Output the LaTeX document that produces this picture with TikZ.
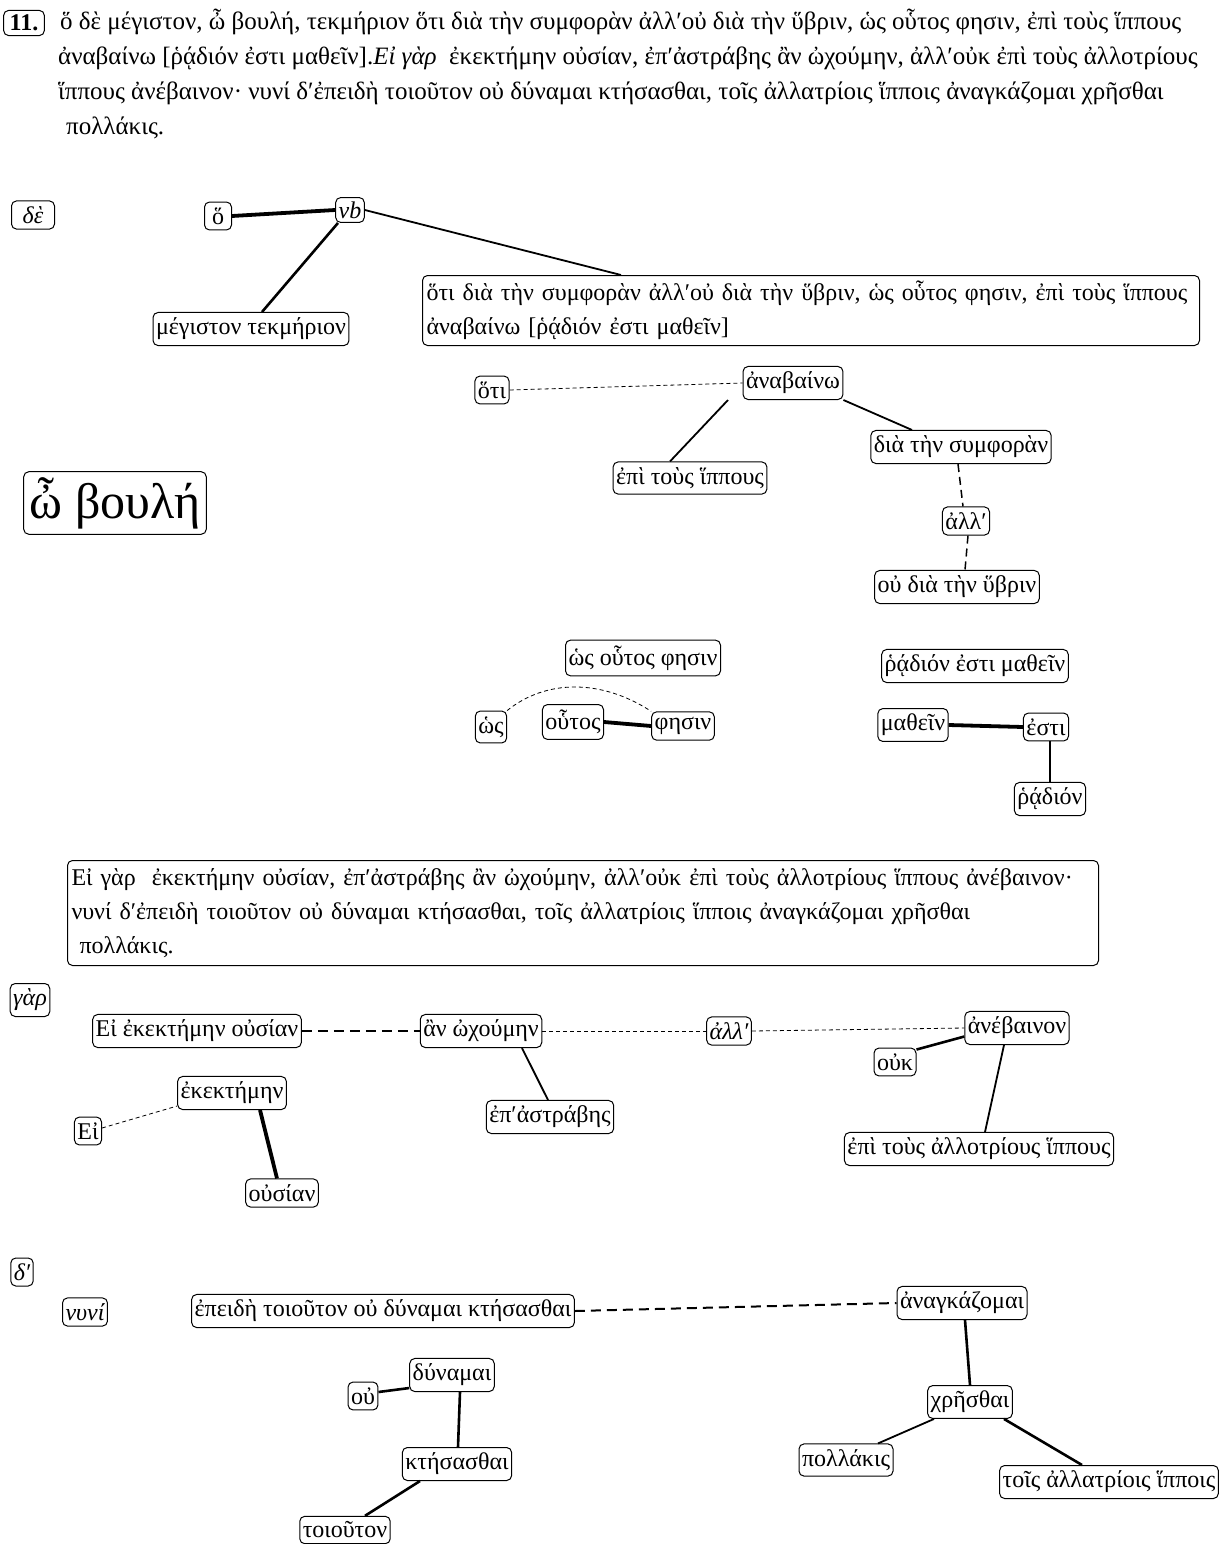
\documentclass[tikz,border=0pt]{standalone}
\usepackage{fontspec}
\setmainfont{Liberation Serif}
\usetikzlibrary{calc}
\begin{document}
\begin{tikzpicture}[x=1pt,y=-1pt,
  every node/.style={font=\fontsize{24}{34}\selectfont},
  box/.style={draw, rounded corners=5pt, line width=1pt, inner xsep=3pt, inner ysep=5.5pt},
  txt/.style={inner sep=0pt, anchor=base west, font=\fontsize{25}{34}\selectfont},
  nrm/.style={line width=1.8pt},
  mid/.style={line width=2.6pt},
  thk/.style={line width=3.8pt},
  thn/.style={line width=0.8pt, dash pattern=on 4pt off 3pt},
  mdash/.style={line width=1.5pt, dash pattern=on 8pt off 5pt},
  ldash/.style={line width=2pt, dash pattern=on 10pt off 6pt}]
\useasboundingbox (0,0) rectangle (1225,1544);
% header
\node[box, font=\fontsize{24}{26}\bfseries\selectfont, inner xsep=6pt, inner ysep=4.5pt] (num) at (24,23) {11.};
\node[txt] (h1) at (60,30) {ὅ δὲ μέγιστον, ὦ βουλή, τεκμήριον ὅτι διὰ τὴν συμφορὰν ἀλλ′οὐ διὰ τὴν ὕβριν, ὡς οὗτος φησιν, ἐπὶ τοὺς ἵππους};
\node[txt] (h2) at (58,65) {ἀναβαίνω [ῥᾴδιόν ἐστι μαθεῖν].\textit{Εἰ γὰρ} \ ἐκεκτήμην οὐσίαν, ἐπ′ἀστράβης ἂν ὠχούμην, ἀλλ′οὐκ ἐπὶ τοὺς ἀλλοτρίους};
\node[txt] (h3) at (58,100) {ἵππους ἀνέβαινον· νυνί δ′ἐπειδὴ τοιοῦτον οὐ δύναμαι κτήσασθαι, τοῖς ἀλλατρίοις ἵπποις ἀναγκάζομαι χρῆσθαι};
\node[txt] (h4) at (66,135) {πολλάκις.};
% first sentence
\node[box, minimum width=43pt] (de) at (33,215) {\itshape δὲ};
\node[box, minimum width=27pt] (o) at (218,216) {ὅ};
\node[box, inner ysep=4pt] (vb) at (350,210) {\itshape vb};
\node[box] (meg) at (251,329) {μέγιστον τεκμήριον};
\node[box, anchor=north west, align=left, text width=769pt, inner xsep=4pt, minimum height=70pt] (big1) at (422,275) {\mbox{ὅτι διὰ τὴν συμφορὰν ἀλλ′οὐ διὰ τὴν ὕβριν, ὡς οὗτος φησιν, ἐπὶ τοὺς ἵππους}\\ ἀναβαίνω [ῥᾴδιόν ἐστι μαθεῖν]};
\node[box, font=\fontsize{50}{56}\selectfont, inner xsep=6pt] (boule) at (115,503) {ὦ βουλή};
\node[box] (hoti) at (492,390) {ὅτι};
\node[box] (anab) at (793,383) {ἀναβαίνω};
\node[box] (epi) at (690,478) {ἐπὶ τοὺς ἵππους};
\node[box] (dia) at (961,447) {διὰ τὴν συμφορὰν};
\node[box] (all1) at (966,521) {ἀλλ′};
\node[box] (oudia) at (957,587) {οὐ διὰ τὴν ὕβριν};
\node[box] (hosph) at (643,658) {ὡς οὗτος φησιν};
\node[box] (hos) at (491,727) {ὡς};
\node[box] (houtos) at (573,722) {οὗτος};
\node[box] (phesin) at (683,726) {φησιν};
\node[box] (rhem) at (975,666) {ῥᾴδιόν ἐστι μαθεῖν};
\node[box] (mathein) at (913,725) {μαθεῖν};
\node[box] (esti) at (1046,727) {ἐστι};
\node[box] (rhadion) at (1050,799) {ῥᾴδιόν};
% second sentence
\node[box, anchor=north west, align=left, text width=1023pt, inner xsep=4pt, minimum height=105pt] (big2) at (67,860) {\mbox{Εἰ γὰρ \ ἐκεκτήμην οὐσίαν, ἐπ′ἀστράβης ἂν ὠχούμην, ἀλλ′οὐκ ἐπὶ τοὺς ἀλλοτρίους ἵππους ἀνέβαινον·}\\ νυνί δ′ἐπειδὴ τοιοῦτον οὐ δύναμαι κτήσασθαι, τοῖς ἀλλατρίοις ἵπποις ἀναγκάζομαι χρῆσθαι\\ \ πολλάκις.};
\node[box] (gar) at (30,1000) {\itshape γὰρ};
\node[box] (eiek) at (197,1031) {Εἰ ἐκεκτήμην οὐσίαν};
\node[box] (anox) at (481,1031) {ἂν ὠχούμην};
\node[box] (all2) at (729,1031) {\itshape ἀλλ′};
\node[box] (aneb) at (1017,1028) {ἀνέβαινον};
\node[box] (ouk) at (895,1062) {οὐκ};
\node[box] (epall) at (979,1149) {ἐπὶ τοὺς ἀλλοτρίους ἵππους};
\node[box] (epastr) at (550,1117) {ἐπ′ἀστράβης};
\node[box] (ekekt) at (232,1093) {ἐκεκτήμην};
\node[box] (ei) at (88,1131) {Εἰ};
\node[box] (ousian) at (282,1193) {οὐσίαν};
% third part
\node[box] (dp) at (22,1272) {\itshape δ′};
\node[box] (nyni) at (85,1312) {\itshape νυνί};
\node[box] (epeide) at (383,1311) {ἐπειδὴ τοιοῦτον οὐ δύναμαι κτήσασθαι};
\node[box] (anank) at (962,1303) {ἀναγκάζομαι};
\node[box] (dyn) at (452,1375) {δύναμαι};
\node[box] (ou) at (363,1396) {οὐ};
\node[box] (ktes) at (457,1464) {κτήσασθαι};
\node[box] (toiout) at (345,1530) {τοιοῦτον};
\node[box] (chres) at (970,1402) {χρῆσθαι};
\node[box] (poll) at (846,1460) {πολλάκις};
\node[box] (tois) at (1109,1482) {τοῖς ἀλλατρίοις ἵπποις};
% connectors
\draw[thk] (o.east) -- (vb.west);
\draw[mid] ([xshift=-12pt]vb.south) -- ([xshift=11pt]meg.north);
\draw[nrm] (vb.east) -- ([xshift=-190pt]big1.north);
\draw[thn] (hoti.east) -- (anab.west);
\draw[nrm] ([xshift=-65pt]anab.south) -- ([xshift=-20pt]epi.north);
\draw[nrm] (anab.south east) -- ([xshift=-49pt]dia.north);
\draw[mdash] ([xshift=-3pt]dia.south) -- ([xshift=-3pt]all1.north);
\draw[mdash] ([xshift=2pt]all1.south) -- ([xshift=8pt]oudia.north);
\draw[thk] (houtos.east) -- (phesin.west);
\draw[thn] (hos.north east) .. controls (545,680) and (600,678) .. (phesin.north west);
\draw[thk] (mathein.east) -- (esti.west);
\draw[mid] ([xshift=4pt]esti.south) -- (rhadion.north);
\draw[ldash] (eiek.east) -- (anox.west);
\draw[thn] (anox.east) -- (all2.west);
\draw[thn] (all2.east) -- (aneb.west);
\draw[mid] ($(aneb.west)!0.5!(aneb.south west)$) -- ([yshift=-2pt]ouk.north east);
\draw[nrm] ([xshift=-13pt]aneb.south) -- ([xshift=6pt]epall.north);
\draw[nrm] ([xshift=41pt]anox.south) -- ([xshift=-2pt]epastr.north);
\draw[thn] ([yshift=3pt]ei.east) -- ([yshift=4pt]ekekt.south west);
\draw[thk] ([xshift=28pt]ekekt.south) -- ([xshift=-5pt]ousian.north);
\draw[ldash] (epeide.east) -- (anank.west);
\draw[mid] ([yshift=4pt]ou.east) -- ([yshift=4pt]dyn.south west);
\draw[mid] ([xshift=8pt]dyn.south) -- ([xshift=1pt]ktes.north);
\draw[mid] ([xshift=-37pt]ktes.south) -- ([xshift=20pt]toiout.north);
\draw[mid] ([xshift=3pt]anank.south) -- (chres.north);
\draw[nrm] ([xshift=-36pt]chres.south) -- ([xshift=32pt]poll.north);
\draw[mid] ([xshift=34pt]chres.south) -- ([xshift=-27pt]tois.north);
\end{tikzpicture}
\end{document}
